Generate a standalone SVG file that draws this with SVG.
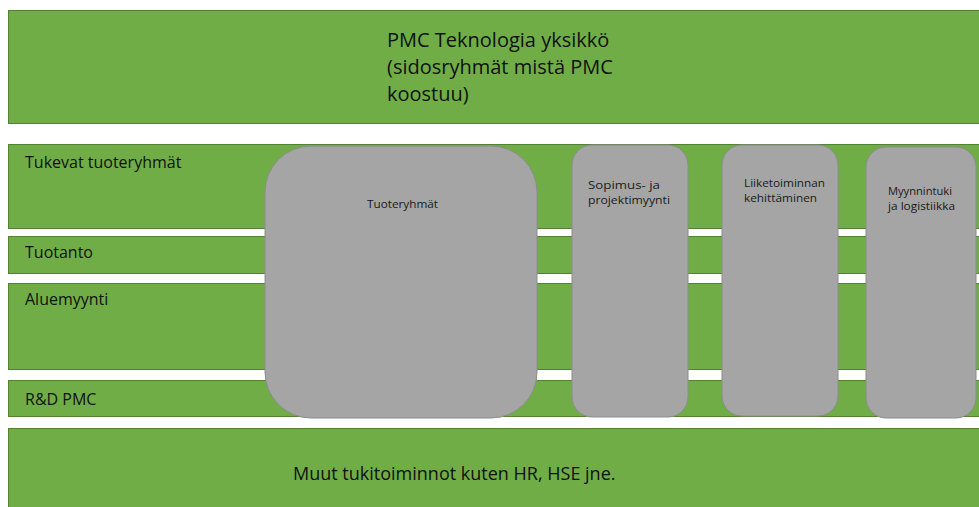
<svg xmlns="http://www.w3.org/2000/svg" width="979" height="507" viewBox="0 0 979 507">
  <style>
    .band { fill: #70ad47; stroke: #548235; stroke-width: 1; }
    .box { fill: #a5a5a5; stroke: #8c8c8c; stroke-width: 1; }
    .lbl { font-family: "Open Sans", "Liberation Sans", sans-serif; fill: #111; }
    .big { font-size: 20px; }
    .mid { font-size: 16px; }
    .foot { font-size: 18px; }
    .small { font-size: 11px; fill: #1a1a1a; }
  </style>
  <rect width="979" height="507" fill="#ffffff"/>

  <!-- horizontal layers -->
  <g id="pmc-unit">
    <rect class="band" x="8.5" y="10.5" width="980" height="113"/>
    <text class="lbl big" x="387" y="47">PMC Teknologia yksikkö</text>
    <text class="lbl big" x="387" y="74">(sidosryhmät mistä PMC</text>
    <text class="lbl big" x="387" y="101">koostuu)</text>
  </g>
  <g id="tukevat">
    <rect class="band" x="8.5" y="144.5" width="980" height="84"/>
    <text class="lbl mid" x="25" y="168">Tukevat tuoteryhmät</text>
  </g>
  <g id="tuotanto">
    <rect class="band" x="8.5" y="236.5" width="980" height="37"/>
    <text class="lbl mid" x="25" y="258">Tuotanto</text>
  </g>
  <g id="aluemyynti">
    <rect class="band" x="8.5" y="283.5" width="980" height="86"/>
    <text class="lbl mid" x="25" y="305">Aluemyynti</text>
  </g>
  <g id="rd-pmc">
    <rect class="band" x="8.5" y="380.5" width="980" height="36"/>
    <text class="lbl mid" x="25" y="405">R&amp;D PMC</text>
  </g>
  <g id="muut">
    <rect class="band" x="8.5" y="428.5" width="980" height="90"/>
    <text class="lbl foot" x="293" y="480">Muut tukitoiminnot kuten HR, HSE jne.</text>
  </g>

  <!-- vertical functions -->
  <g id="tuoteryhmat">
    <rect class="box" x="265" y="146" width="272" height="272" rx="46" ry="46"/>
    <text class="lbl small" x="367" y="208" textLength="71" lengthAdjust="spacingAndGlyphs">Tuoteryhmät</text>
  </g>
  <g id="sopimus">
    <rect class="box" x="572" y="145" width="116" height="272" rx="20" ry="20"/>
    <text class="lbl small" x="588" y="189" textLength="72" lengthAdjust="spacingAndGlyphs">Sopimus- ja</text>
    <text class="lbl small" x="588" y="204" textLength="82" lengthAdjust="spacingAndGlyphs">projektimyynti</text>
  </g>
  <g id="liiketoiminnan">
    <rect class="box" x="722" y="145" width="116" height="271" rx="20" ry="20"/>
    <text class="lbl small" x="744" y="187" textLength="81" lengthAdjust="spacingAndGlyphs">Liiketoiminnan</text>
    <text class="lbl small" x="744" y="202" textLength="73" lengthAdjust="spacingAndGlyphs">kehittäminen</text>
  </g>
  <g id="myynnintuki">
    <rect class="box" x="866" y="147" width="110" height="271" rx="20" ry="20"/>
    <text class="lbl small" x="888" y="195" textLength="64" lengthAdjust="spacingAndGlyphs">Myynnintuki</text>
    <text class="lbl small" x="888" y="210" textLength="67" lengthAdjust="spacingAndGlyphs">ja logistiikka</text>
  </g>

  <g id="connectors"/>
</svg>
